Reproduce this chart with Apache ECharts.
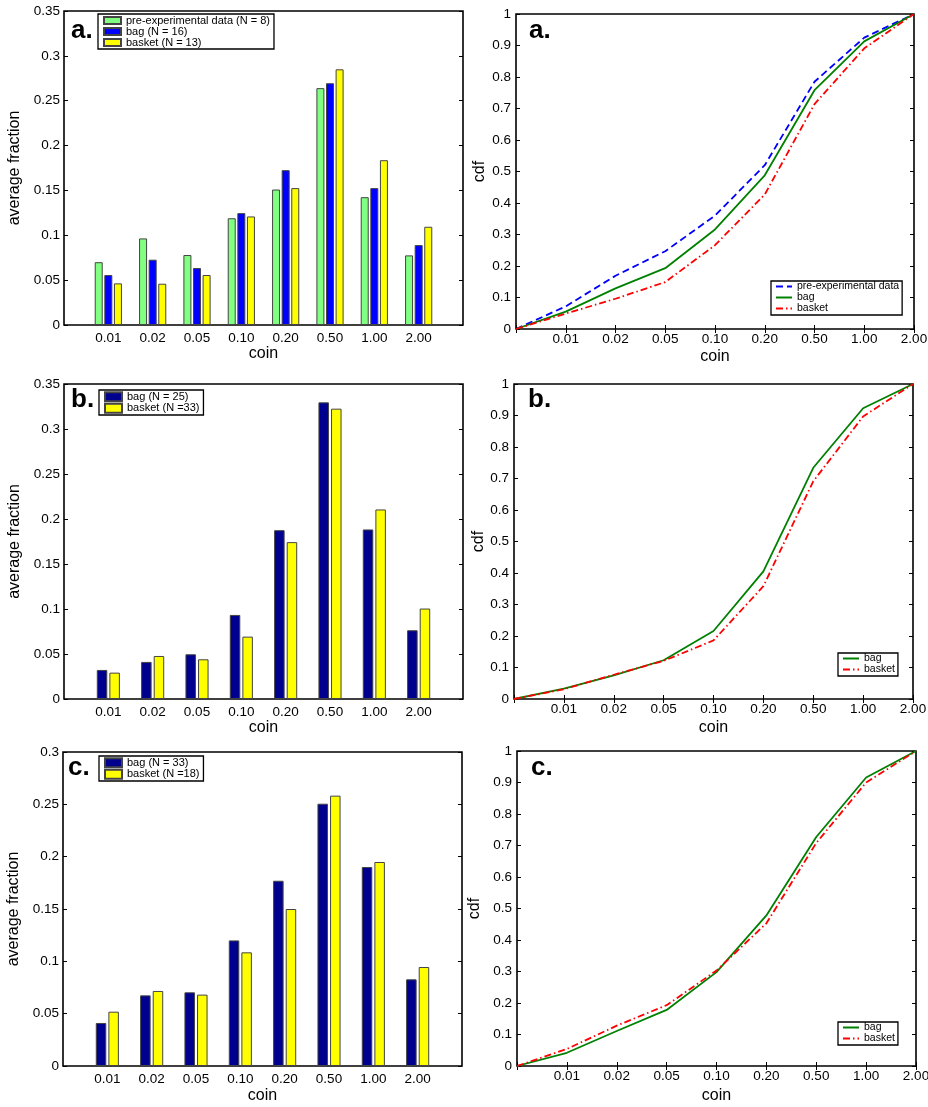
<!DOCTYPE html>
<html>
<head>
<meta charset="utf-8">
<script src="https://cdn.jsdelivr.net/npm/echarts@6/dist/echarts.min.js"></script>
<style>
html,body{margin:0;padding:0;background:#fff;}
#chart{width:928px;height:1107px;}
</style>
</head>
<body>
<div id="chart"></div>
<script>
// ---- data ----
const coins = ['0.01','0.02','0.05','0.10','0.20','0.50','1.00','2.00'];

// panel a (bars)
const aPre    = [0.070, 0.0965, 0.078, 0.119, 0.151, 0.264, 0.1425, 0.0776];
const aBag    = [0.0557, 0.0728, 0.0635, 0.1247, 0.1726, 0.2695, 0.1526, 0.0891];
const aBasket = [0.0464, 0.046, 0.0557, 0.121, 0.1526, 0.285, 0.1837, 0.1095];
// panel b (bars)
const bBag    = [0.0323, 0.0412, 0.0497, 0.0934, 0.1876, 0.3296, 0.1884, 0.0764];
const bBasket = [0.0293, 0.0478, 0.0441, 0.0693, 0.1743, 0.3226, 0.2106, 0.1005];
// panel c (bars)
const cBag    = [0.0411, 0.0675, 0.0704, 0.120, 0.177, 0.2506, 0.1901, 0.0828];
const cBasket = [0.0519, 0.0717, 0.0682, 0.1086, 0.150, 0.2583, 0.1949, 0.0946];

// cdf curves (first value is the origin point)
const cdfAPre    = [0, 0.072, 0.169, 0.247, 0.360, 0.520, 0.785, 0.925, 1];
const cdfABag    = [0, 0.055, 0.129, 0.193, 0.316, 0.488, 0.758, 0.913, 1];
const cdfABasket = [0, 0.049, 0.096, 0.149, 0.266, 0.427, 0.714, 0.891, 1];
const cdfBBag    = [0, 0.033, 0.075, 0.123, 0.216, 0.405, 0.734, 0.923, 1];
const cdfBBasket = [0, 0.031, 0.077, 0.121, 0.186, 0.358, 0.691, 0.897, 1];
const cdfCBag    = [0, 0.042, 0.111, 0.178, 0.298, 0.478, 0.727, 0.916, 1];
const cdfCBasket = [0, 0.054, 0.128, 0.193, 0.303, 0.453, 0.708, 0.900, 1];

const barCats = [''].concat(coins, ['']);
const cdfCats = [''].concat(coins);

// ---- styling ----
const FONT = "'Liberation Sans', Arial, Helvetica, sans-serif";
const C_LGREEN = '#80ff80', C_BLUE = '#0000ff', C_YELLOW = '#ffff00', C_NAVY = '#00008f';
const C_GREEN = '#008000', C_RED = '#ff0000';

const grids = [
  {left: 64,  top: 11,  width: 399, height: 314}, // bar a
  {left: 516, top: 14,  width: 398, height: 315}, // cdf a
  {left: 64,  top: 384, width: 399, height: 315}, // bar b
  {left: 514, top: 384, width: 399, height: 315}, // cdf b
  {left: 63,  top: 752, width: 399, height: 314}, // bar c
  {left: 517, top: 751, width: 399, height: 315}  // cdf c
].map(g => Object.assign({show: true, borderColor: '#000', borderWidth: 1.6, backgroundColor: '#fff', containLabel: false, outerBoundsMode: 'none'}, g));

const xAxes = [], yAxes = [];
function addBarAxes(gi, ymax, nameGapX) {
  xAxes.push({type: 'category', gridIndex: gi, data: barCats, boundaryGap: false, position: 'bottom',
    axisLine: {show: false}, axisTick: {show: false},
    axisLabel: {interval: 0, color: '#000', fontFamily: FONT, fontSize: 13.5, margin: 6},
    name: 'coin', nameLocation: 'middle', nameGap: nameGapX,
    nameTextStyle: {color: '#000', fontFamily: FONT, fontSize: 16}, splitLine: {show: false}});
  yAxes.push({type: 'value', gridIndex: gi, min: 0, max: ymax, interval: 0.05, position: 'left',
    axisLine: {show: false}, axisTick: {show: true, inside: true, length: 4, lineStyle: {color: '#000'}},
    axisLabel: {color: '#000', fontFamily: FONT, fontSize: 13.5, margin: 4, formatter: v => String(+v.toFixed(2))},
    name: 'average fraction', nameLocation: 'middle', nameGap: 41,
    nameTextStyle: {color: '#000', fontFamily: FONT, fontSize: 16}, splitLine: {show: false}});
  yAxes.push({type: 'value', gridIndex: gi, min: 0, max: ymax, interval: 0.05, position: 'right',
    axisLine: {show: false}, axisTick: {show: true, inside: true, length: 4, lineStyle: {color: '#000'}},
    axisLabel: {show: false}, splitLine: {show: false}});
}
function addCdfAxes(gi, nameGapX, nameGapY) {
  xAxes.push({type: 'category', gridIndex: gi, data: cdfCats, boundaryGap: false, position: 'bottom',
    axisLine: {show: false}, axisTick: {show: true, inside: true, length: 4, interval: 0, lineStyle: {color: '#000'}},
    axisLabel: {interval: 0, color: '#000', fontFamily: FONT, fontSize: 13.5, margin: 3},
    name: 'coin', nameLocation: 'middle', nameGap: nameGapX,
    nameTextStyle: {color: '#000', fontFamily: FONT, fontSize: 16}, splitLine: {show: false}});
  xAxes.push({type: 'category', gridIndex: gi, data: cdfCats, boundaryGap: false, position: 'top',
    axisLine: {show: false}, axisTick: {show: true, inside: true, length: 4, interval: 0, lineStyle: {color: '#000'}},
    axisLabel: {show: false}, splitLine: {show: false}});
  yAxes.push({type: 'value', gridIndex: gi, min: 0, max: 1, interval: 0.1, position: 'left',
    axisLine: {show: false}, axisTick: {show: true, inside: true, length: 4, lineStyle: {color: '#000'}},
    axisLabel: {color: '#000', fontFamily: FONT, fontSize: 13.5, margin: 5, formatter: v => String(+v.toFixed(1))},
    name: 'cdf', nameLocation: 'middle', nameGap: nameGapY,
    nameTextStyle: {color: '#000', fontFamily: FONT, fontSize: 16}, splitLine: {show: false}});
  yAxes.push({type: 'value', gridIndex: gi, min: 0, max: 1, interval: 0.1, position: 'right',
    axisLine: {show: false}, axisTick: {show: true, inside: true, length: 4, lineStyle: {color: '#000'}},
    axisLabel: {show: false}, splitLine: {show: false}});
}

addBarAxes(0, 0.35, 20);   // x0, y0,y1
addCdfAxes(1, 20, 28);     // x1,x2, y2,y3
addBarAxes(2, 0.35, 21);   // x3, y4,y5
addCdfAxes(3, 21, 26);     // x4,x5, y6,y7
addBarAxes(4, 0.3, 22);    // x6, y8,y9
addCdfAxes(5, 22, 34);     // x7,x8, y10,y11

const pad = arr => [null].concat(arr, [null]);
function bar(name, data, color, xi, yi, w) {
  return {type: 'bar', name, data: pad(data), xAxisIndex: xi, yAxisIndex: yi,
    barWidth: w, barGap: '20%', itemStyle: {color, borderColor: '#444', borderWidth: 1}, animation: false};
}
function line(name, data, color, type, xi, yi) {
  return {type: 'line', name, data, xAxisIndex: xi, yAxisIndex: yi, symbol: 'none', showSymbol: false,
    lineStyle: {color, width: 1.8, type}, itemStyle: {color}, animation: false, z: 3};
}
const dashed = [7, 4];
const dashDot = [7, 3, 1.5, 3];

const series = [
  bar('pre-experimental data (N = 8)', aPre, C_LGREEN, 0, 0, 8),
  bar('bag (N = 16)', aBag, C_BLUE, 0, 0, 8),
  bar('basket (N = 13)', aBasket, C_YELLOW, 0, 0, 8),
  line('pre-experimental data', cdfAPre, C_BLUE, dashed, 1, 2),
  line('bag', cdfABag, C_GREEN, 'solid', 1, 2),
  line('basket', cdfABasket, C_RED, dashDot, 1, 2),
  bar('bag (N = 25)', bBag, C_NAVY, 3, 4, 10.5),
  bar('basket (N =33)', bBasket, C_YELLOW, 3, 4, 10.5),
  line('bag', cdfBBag, C_GREEN, 'solid', 4, 6),
  line('basket', cdfBBasket, C_RED, dashDot, 4, 6),
  bar('bag (N = 33)', cBag, C_NAVY, 6, 8, 10.5),
  bar('basket (N =18)', cBasket, C_YELLOW, 6, 8, 10.5),
  line('bag', cdfCBag, C_GREEN, 'solid', 7, 10),
  line('basket', cdfCBasket, C_RED, dashDot, 7, 10)
];

function legend(data, left, top, opts) {
  return Object.assign({
    data, left, top, orient: 'vertical', selectedMode: false,
    backgroundColor: '#fff', borderColor: '#000', borderWidth: 1.3,
    itemGap: 0, itemTextGap: 5
  }, opts);
}
const barLegendStyle = (lh, ih) => ({padding: [1, 4, 1, 5], itemWidth: 17, itemHeight: ih, icon: 'rect',
  textStyle: {color: '#000', fontFamily: FONT, fontSize: 11, lineHeight: lh}});
const lineLegendStyle = (lh) => ({padding: [0, 3, 1, 4], itemWidth: 16, itemHeight: lh,
  itemStyle: {color: 'rgba(0,0,0,0)', borderColor: 'rgba(0,0,0,0)', borderWidth: 0, opacity: 0},
  textStyle: {color: '#000', fontFamily: FONT, fontSize: 10.5, lineHeight: lh}});

const legends = [
  legend(['pre-experimental data (N = 8)', 'bag (N = 16)', 'basket (N = 13)'], 98, 14, barLegendStyle(11, 7)),
  legend(['pre-experimental data', 'bag', 'basket'], 771, 281, lineLegendStyle(10.3)),
  legend(['bag (N = 25)', 'basket (N =33)'], 99, 390, barLegendStyle(11.5, 9)),
  legend(['bag', 'basket'], 838, 653, lineLegendStyle(10.5)),
  legend(['bag (N = 33)', 'basket (N =18)'], 99, 756, barLegendStyle(11.5, 9)),
  legend(['bag', 'basket'], 838, 1022, lineLegendStyle(11))
];

function letter(t, x, y) {
  return {type: 'text', left: x, top: y, z: 100,
    style: {text: t, fill: '#000', font: 'bold 26px ' + FONT}};
}
const graphics = [
  letter('a.', 71, 18), letter('a.', 529, 18),
  letter('b.', 71, 387), letter('b.', 528, 387),
  letter('c.', 68, 755), letter('c.', 531, 755)
];

const chart = echarts.init(document.getElementById('chart'), null, {renderer: 'canvas'});
chart.setOption({
  backgroundColor: '#fff',
  animation: false,
  textStyle: {fontFamily: FONT, color: '#000'},
  grid: grids,
  xAxis: xAxes,
  yAxis: yAxes,
  legend: legends,
  series,
  graphic: graphics
});
</script>
</body>
</html>
